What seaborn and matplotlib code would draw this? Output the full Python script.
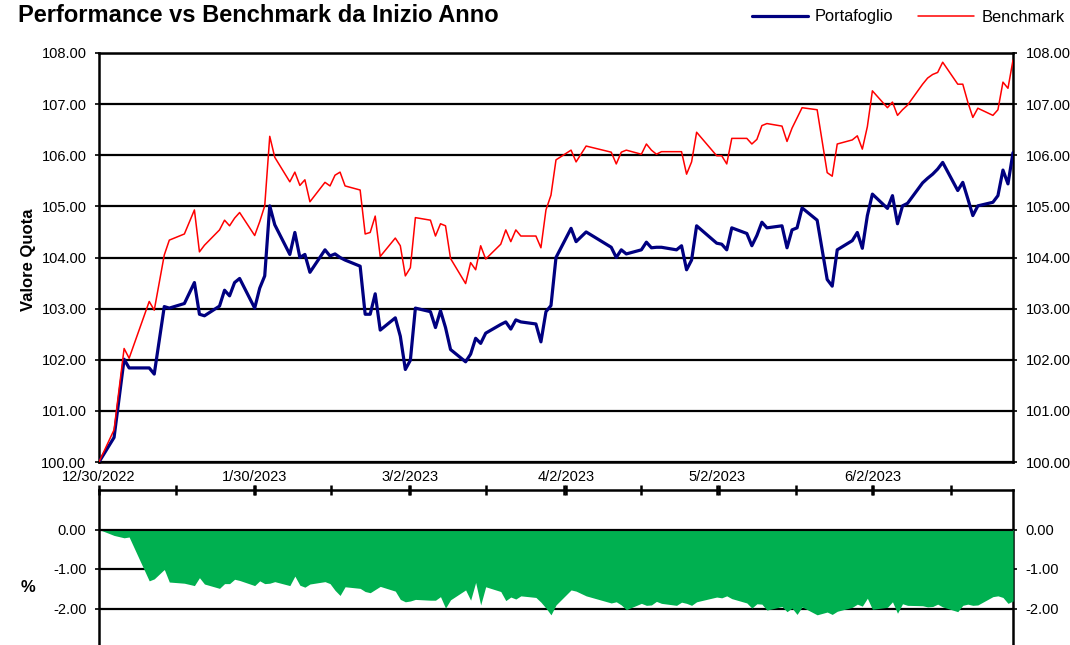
import matplotlib
matplotlib.use("Agg")
import matplotlib.pyplot as plt
import matplotlib.dates as mdates
import matplotlib.ticker as mticker
import pandas as pd
import seaborn as sns

# Trading days
dates = [
    "2022-12-30", "2023-01-02", "2023-01-04", "2023-01-05", "2023-01-09", "2023-01-10",
    "2023-01-12", "2023-01-13", "2023-01-16", "2023-01-18", "2023-01-19", "2023-01-20",
    "2023-01-23", "2023-01-24", "2023-01-25", "2023-01-26", "2023-01-27", "2023-01-30",
    "2023-01-31",
    "2023-02-01", "2023-02-02", "2023-02-03", "2023-02-06", "2023-02-07", "2023-02-08",
    "2023-02-09", "2023-02-10", "2023-02-13", "2023-02-14", "2023-02-15", "2023-02-16",
    "2023-02-17", "2023-02-20", "2023-02-21", "2023-02-22", "2023-02-23", "2023-02-24",
    "2023-02-27", "2023-02-28",
    "2023-03-01", "2023-03-02", "2023-03-03", "2023-03-06", "2023-03-07", "2023-03-08",
    "2023-03-09", "2023-03-10", "2023-03-13", "2023-03-14", "2023-03-15", "2023-03-16",
    "2023-03-17", "2023-03-20", "2023-03-21", "2023-03-22", "2023-03-23", "2023-03-24",
    "2023-03-27", "2023-03-28", "2023-03-29", "2023-03-30", "2023-03-31",
    "2023-04-03", "2023-04-04", "2023-04-06", "2023-04-11", "2023-04-12", "2023-04-13",
    "2023-04-14", "2023-04-17", "2023-04-18", "2023-04-19", "2023-04-20", "2023-04-21",
    "2023-04-24", "2023-04-25", "2023-04-26", "2023-04-27", "2023-04-28",
    "2023-05-02", "2023-05-03", "2023-05-04", "2023-05-05", "2023-05-08", "2023-05-09",
    "2023-05-10", "2023-05-11", "2023-05-12", "2023-05-15", "2023-05-16", "2023-05-17",
    "2023-05-18", "2023-05-19", "2023-05-22", "2023-05-24", "2023-05-25", "2023-05-26",
    "2023-05-29", "2023-05-30", "2023-05-31",
    "2023-06-01", "2023-06-02", "2023-06-05", "2023-06-06", "2023-06-07", "2023-06-08",
    "2023-06-09", "2023-06-12", "2023-06-13", "2023-06-14", "2023-06-15", "2023-06-16",
    "2023-06-19", "2023-06-20", "2023-06-21", "2023-06-22", "2023-06-23", "2023-06-26",
    "2023-06-27", "2023-06-28", "2023-06-29", "2023-06-30",
]

portafoglio = [
    100.00, 100.48, 102.01, 101.84, 101.84, 101.72, 103.04, 103.01, 103.10, 103.51,
    102.89, 102.86, 103.05, 103.36, 103.25, 103.51, 103.59, 103.01, 103.40,
    103.64, 105.01, 104.64, 104.06, 104.49, 104.00, 104.06, 103.71, 104.15, 104.03,
    104.07, 104.00, 103.95, 103.83, 102.89, 102.89, 103.29, 102.58, 102.82, 102.46,
    101.81, 101.99, 103.01, 102.94, 102.63, 102.96, 102.63, 102.20, 101.96, 102.11,
    102.42, 102.32, 102.52, 102.69, 102.74, 102.60, 102.78, 102.74, 102.70, 102.35,
    102.94, 103.06, 104.00,
    104.57, 104.31, 104.50, 104.20, 104.00, 104.15, 104.07, 104.15, 104.30, 104.19,
    104.20, 104.20, 104.15, 104.23, 103.76, 103.95, 104.62,
    104.28, 104.26, 104.15, 104.58, 104.47, 104.23, 104.43, 104.69, 104.58, 104.62,
    104.19, 104.54, 104.58, 104.97, 104.73, 103.57, 103.44, 104.15, 104.33, 104.49,
    104.18,
    104.82, 105.24, 104.96, 105.21, 104.66, 105.01, 105.06, 105.46, 105.55, 105.63,
    105.73, 105.86, 105.31, 105.47, 105.15, 104.82, 105.01, 105.08, 105.21, 105.71,
    105.44, 106.05,
]

benchmark = [
    100.00, 100.63, 102.22, 102.03, 103.14, 102.97, 104.05, 104.34, 104.46, 104.93,
    104.11, 104.24, 104.54, 104.73, 104.62, 104.77, 104.88, 104.43, 104.70,
    105.01, 106.37, 105.96, 105.48, 105.67, 105.41, 105.52, 105.09, 105.47, 105.40,
    105.61, 105.67, 105.40, 105.32, 104.46, 104.49, 104.81, 104.02, 104.38, 104.23,
    103.64, 103.80, 104.78, 104.73, 104.42, 104.66, 104.62, 103.98, 103.49, 103.90,
    103.76, 104.23, 103.97, 104.26, 104.54, 104.31, 104.54, 104.42, 104.42, 104.19,
    104.93, 105.22, 105.91,
    106.10, 105.87, 106.18, 106.06, 105.83, 106.06, 106.10, 106.02, 106.22, 106.10,
    106.02, 106.07, 106.07, 106.07, 105.63, 105.87, 106.45,
    105.99, 105.99, 105.83, 106.33, 106.33, 106.22, 106.31, 106.58, 106.62, 106.57,
    106.27, 106.53, 106.73, 106.93, 106.89, 105.66, 105.59, 106.22, 106.30, 106.38,
    106.12,
    106.56, 107.26, 106.93, 107.04, 106.78, 106.89, 106.98, 107.39, 107.51, 107.58,
    107.62, 107.82, 107.39, 107.39, 107.04, 106.74, 106.92, 106.78, 106.89, 107.43,
    107.31, 107.86,
]

tick_dates = ["2022-12-30", "2023-01-30", "2023-03-02", "2023-04-02", "2023-05-02", "2023-06-02"]
tick_labels = ["12/30/2022", "1/30/2023", "3/2/2023", "4/2/2023", "5/2/2023", "6/2/2023"]

df = pd.DataFrame({
    "data": pd.to_datetime(dates),
    "Portafoglio": portafoglio,
    "Benchmark": benchmark,
})
# differenza portafoglio - benchmark per il pannello inferiore
df["diff"] = df["Portafoglio"] - df["Benchmark"]

sns.set_style("white", {
    "axes.edgecolor": "black", "text.color": "black", "axes.labelcolor": "black",
    "xtick.color": "black", "ytick.color": "black",
})
plt.rcParams["font.family"] = ["Liberation Sans", "DejaVu Sans"]
plt.rcParams["axes.unicode_minus"] = False

fig = plt.figure(figsize=(10.7, 6.45), dpi=100)
left, width = 99 / 1070, (1013 - 99) / 1070
ax = fig.add_axes([left, 1 - 462 / 645, width, (462 - 53) / 645])
ax2 = fig.add_axes([left, 1 - 648 / 645, width, (648 - 490) / 645])

x0 = pd.Timestamp("2022-12-30")
x1 = pd.Timestamp("2023-06-30")
major_pos = mdates.date2num(pd.to_datetime(tick_dates))
minor_pos = [mdates.date2num(x0) + 15.42 * k for k in range(1, 12)]

# --- pannello superiore ---
sns.lineplot(data=df, x="data", y="Portafoglio", ax=ax, color="#000080",
             lw=2.3, label="Portafoglio", zorder=3)
sns.lineplot(data=df, x="data", y="Benchmark", ax=ax, color="#FF0000",
             lw=1.1, label="Benchmark", zorder=4)
handles, labels = ax.get_legend_handles_labels()
ax.get_legend().remove()

ax.set_xlim(x0, x1)
ax.set_ylim(100, 108)
ax.set_yticks(range(100, 109))
ax.yaxis.set_major_formatter(mticker.FormatStrFormatter("%.2f"))
ax.yaxis.grid(True, color="black", lw=1.6)
ax.set_axisbelow(True)
ax.set_xlabel("")
ax.set_ylabel("")
ax.xaxis.set_major_locator(mticker.FixedLocator(major_pos))
ax.xaxis.set_major_formatter(mticker.FixedFormatter(tick_labels))
ax.xaxis.set_minor_locator(mticker.FixedLocator(minor_pos))
ax.tick_params(axis="x", which="major", direction="out", length=5, width=1.8,
               labelsize=10.5, pad=1)
ax.tick_params(axis="x", which="minor", direction="in", length=5, width=1.8)
ax.tick_params(axis="y", which="major", left=True, right=True, labelleft=True,
               labelright=True, length=3, width=1.2, labelsize=10.5, pad=6)
for sp in ax.spines.values():
    sp.set_linewidth(1.8)
    sp.set_color("black")

# --- pannello inferiore ---
ax2.fill_between(df["data"], 0, df["diff"], color="#00B050", lw=0, zorder=3)
ax2.axhline(0, color="black", lw=0.8, zorder=4)
ax2.set_xlim(x0, x1)
ax2.set_ylim(-3, 1)
ax2.set_yticks([0, -1, -2])
ax2.yaxis.set_major_formatter(mticker.FormatStrFormatter("%.2f"))
ax2.yaxis.grid(True, color="black", lw=1.6, zorder=1)
ax2.set_axisbelow(True)
ax2.xaxis.set_major_locator(mticker.FixedLocator(major_pos))
ax2.xaxis.set_minor_locator(mticker.FixedLocator(minor_pos))
ax2.tick_params(axis="x", which="both", top=True, bottom=False, labeltop=False,
                labelbottom=False, direction="inout", length=7, width=1.8)
ax2.tick_params(axis="y", which="major", left=True, right=True, labelleft=True,
                labelright=True, length=3, width=1.2, labelsize=10.5, pad=6)
for sp in ax2.spines.values():
    sp.set_linewidth(1.8)
    sp.set_color("black")

# --- testi ---
fig.text(18 / 1070, 1 - 16 / 645, "Performance vs Benchmark da Inizio Anno",
         fontsize=17, fontweight="bold", ha="left", va="center")
fig.text(28 / 1070, 1 - 260 / 645, "Valore Quota", rotation=90,
         fontsize=12, fontweight="bold", ha="center", va="center")
fig.text(28 / 1070, 1 - 588 / 645, "%", fontsize=12, fontweight="bold",
         ha="center", va="center")
fig.legend(handles, labels, loc="center left", bbox_to_anchor=(752 / 1070, 1 - 17 / 645),
           ncol=2, frameon=False, handlelength=3.4, handletextpad=0.45,
           columnspacing=1.5, borderpad=0, borderaxespad=0, fontsize=11.8)

fig.savefig("out.png", dpi=100)
